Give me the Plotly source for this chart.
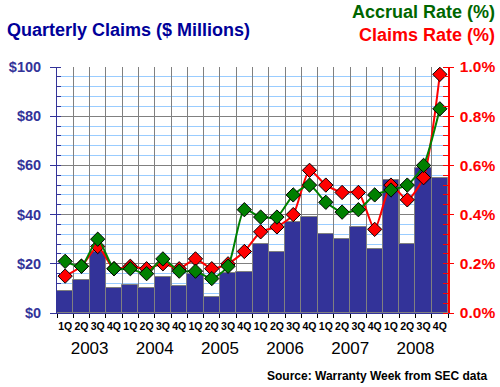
import plotly.graph_objects as go

quarters = ["1Q", "2Q", "3Q", "4Q"] * 6
years = ["2003", "2004", "2005", "2006", "2007", "2008"]
claims_musd = [9, 13.5, 25, 10, 11.5, 10, 14.5, 11, 16, 6.5, 16.2, 16.8,
               28, 25, 37, 39, 32, 30, 35, 26, 54, 28, 59, 55]
accrual_rate = [0.21, 0.19, 0.30, 0.18, 0.18, 0.16, 0.22, 0.17, 0.17, 0.14, 0.19, 0.42,
                0.39, 0.39, 0.48, 0.52, 0.45, 0.41, 0.42, 0.48, 0.50, 0.52, 0.60, 0.83]
claims_rate = [0.15, 0.19, 0.27, 0.18, 0.19, 0.18, 0.20, 0.18, 0.22, 0.18, 0.20, 0.25,
               0.33, 0.35, 0.40, 0.58, 0.52, 0.49, 0.49, 0.34, 0.52, 0.46, 0.55, 0.97]
left_ticks = [0, 20, 40, 60, 80, 100]
left_tick_text = ["$0", "$20", "$40", "$60", "$80", "$100"]
right_ticks = [0.0, 0.2, 0.4, 0.6, 0.8, 1.0]

n = len(quarters)
xs = list(range(n))
year_pos = [4 * i + 1.5 for i in range(len(years))]
bounds = [i - 0.5 for i in range(n + 1)]

NAVY = "#333399"
FONT = "Liberation Sans, Arial, sans-serif"

# fixed plot area in pixels
L, R, T, B = 57, 52, 67, 74
PW, PH = 500 - L - R, 387 - T - B


def px(x):
    return (x - L) / PW


def py(y):
    return (387 - B - y) / PH


fig = go.Figure()
fig.add_trace(go.Bar(x=xs, y=claims_musd, marker=dict(color=NAVY, line=dict(color="#808080", width=1)),
                     hoverinfo="skip", showlegend=False))
fig.add_trace(go.Scatter(x=xs, y=claims_rate, yaxis="y2", mode="lines+markers",
                         line=dict(color="#ff0000", width=2, shape="spline", smoothing=0.6),
                         marker=dict(symbol="diamond", size=11, color="#ff0000",
                                     line=dict(color="#000000", width=1)),
                         showlegend=False))
fig.add_trace(go.Scatter(x=xs, y=accrual_rate, yaxis="y2", mode="lines+markers",
                         line=dict(color="#008000", width=2, shape="spline", smoothing=0.6),
                         marker=dict(symbol="diamond", size=11, color="#008000",
                                     line=dict(color="#000000", width=1)),
                         showlegend=False))
fig.add_trace(go.Scatter(x=xs, y=[None] * n, xaxis="x2", showlegend=False, hoverinfo="skip"))
fig.add_trace(go.Scatter(x=year_pos, y=[None] * len(year_pos), xaxis="x3", showlegend=False, hoverinfo="skip"))

fig.update_layout(
    width=500, height=387,
    margin=dict(l=L, r=R, t=T, b=B, autoexpand=False),
    paper_bgcolor="white", plot_bgcolor="white",
    bargap=0,
    font=dict(family=FONT),
    xaxis=dict(range=[-0.5, n - 0.5], tickvals=bounds, showticklabels=False, automargin=False,
               ticks="outside", ticklen=4, tickcolor="#000000",
               showgrid=True, gridcolor="#808080", gridwidth=1,
               showline=True, linecolor=NAVY, linewidth=1, zeroline=False, fixedrange=True),
    xaxis2=dict(overlaying="x", anchor="y", side="bottom", range=[-0.5, n - 0.5], automargin=False,
                tickvals=xs, ticktext=quarters, ticks="", showgrid=False, showline=False,
                zeroline=False, ticklabelstandoff=5, tickangle=0,
                tickfont=dict(size=10.5, color="#000000", family=FONT, weight="bold")),
    xaxis3=dict(overlaying="x", anchor="y", side="bottom", range=[-0.5, n - 0.5], automargin=False,
                tickvals=year_pos, ticktext=years, ticks="", showgrid=False, showline=False,
                zeroline=False, ticklabelstandoff=23, tickangle=0,
                tickfont=dict(size=17, color="#000000", family=FONT)),
    yaxis=dict(range=[0, 100], tickvals=left_ticks, ticktext=left_tick_text, automargin=False,
               ticks="outside", ticklen=6, tickcolor=NAVY, ticklabelstandoff=6,
               showgrid=True, gridcolor="#808080", gridwidth=1,
               showline=True, linecolor=NAVY, linewidth=1, zeroline=False,
               tickfont=dict(size=14.5, color=NAVY, family=FONT, weight="bold"),
               minor=dict(dtick=4, showgrid=True, gridcolor="#99ccff", gridwidth=1,
                          ticks="inside", ticklen=4, tickcolor=NAVY)),
    yaxis2=dict(range=[0, 1.0], overlaying="y", side="right", tickvals=right_ticks, automargin=False,
                ticktext=[f"{v:.1f}%" for v in right_ticks],
                ticks="outside", ticklen=4, tickcolor="#ff0000", ticklabelstandoff=3,
                showgrid=False, showline=True, linecolor="#ff0000", linewidth=1.5, zeroline=False,
                tickfont=dict(size=15.5, color="#ff0000", family=FONT, weight="bold"),
                minor=dict(dtick=0.04, ticks="inside", ticklen=5, tickcolor="#ff0000", showgrid=False)),
    annotations=[
        dict(text="Quarterly Claims ($ Millions)", xref="paper", yref="paper", x=px(5), y=py(30),
             xanchor="left", yanchor="middle", showarrow=False,
             font=dict(size=18, color="#000099", family=FONT, weight="bold")),
        dict(text="Accrual Rate (%)", xref="paper", yref="paper", x=px(497), y=py(12),
             xanchor="right", yanchor="middle", showarrow=False,
             font=dict(size=18, color="#006600", family=FONT, weight="bold")),
        dict(text="Claims Rate (%)", xref="paper", yref="paper", x=px(497), y=py(35),
             xanchor="right", yanchor="middle", showarrow=False,
             font=dict(size=18, color="#ff0000", family=FONT, weight="bold")),
        dict(text="Source: Warranty Week from SEC data", xref="paper", yref="paper", x=px(489), y=py(376),
             xanchor="right", yanchor="middle", showarrow=False,
             font=dict(size=12, color="#000000", family=FONT, weight="bold")),
    ],
)

fig.write_html("out.html", config={"displayModeBar": False},
               post_script="document.body.style.margin='0px';document.body.style.overflow='hidden';")
